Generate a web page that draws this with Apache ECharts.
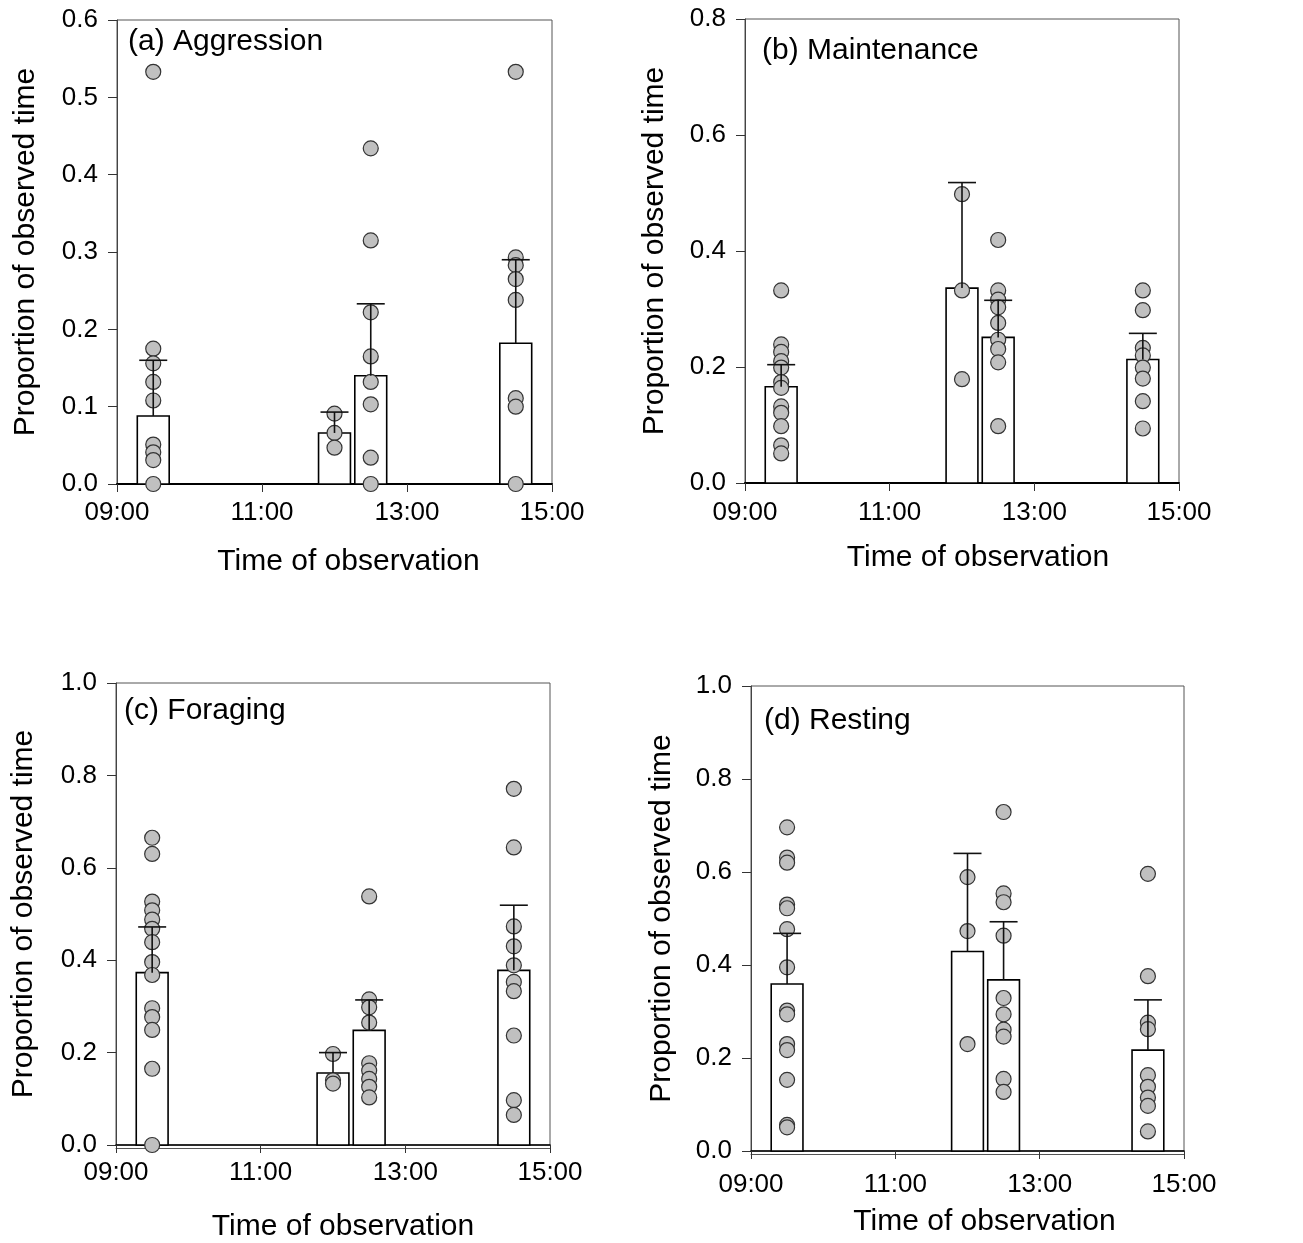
<!DOCTYPE html>
<html>
<head>
<meta charset="utf-8">
<script src="https://cdn.jsdelivr.net/npm/echarts@6/dist/echarts.min.js"></script>
<style>
  html, body { margin: 0; padding: 0; background: #fff; }
  #chart { width: 1303px; height: 1243px; }
</style>
</head>
<body>
<div id="chart"></div>
<script>
// observation slots
const times = ['09:30', '12:00', '12:30', '14:30'];
const xTicks = ['09:00', '11:00', '13:00', '15:00'];

// (a) Aggression
const aggressionMean = [0.088, 0.066, 0.140, 0.182];
const aggressionTop = [0.160, 0.093, 0.233, 0.290];
const aggressionPts = [
  [0.533, 0.175, 0.156, 0.132, 0.108, 0.051, 0.041, 0.031, 0],
  [0.091, 0.066, 0.047],
  [0.434, 0.315, 0.222, 0.165, 0.132, 0.103, 0.034, 0],
  [0.533, 0.293, 0.283, 0.265, 0.238, 0.111, 0.100, 0],
];

// (b) Maintenance
const maintenanceMean = [0.166, 0.336, 0.251, 0.213];
const maintenanceTop = [0.204, 0.518, 0.315, 0.258];
const maintenancePts = [
  [0.332, 0.239, 0.226, 0.210, 0.199, 0.174, 0.164, 0.132, 0.121, 0.098, 0.065, 0.051],
  [0.498, 0.332, 0.179],
  [0.419, 0.332, 0.316, 0.303, 0.276, 0.247, 0.231, 0.208, 0.098],
  [0.332, 0.298, 0.233, 0.220, 0.199, 0.180, 0.141, 0.094],
];

// (c) Foraging
const foragingMean = [0.373, 0.156, 0.248, 0.378];
const foragingTop = [0.472, 0.200, 0.314, 0.519];
const foragingPts = [
  [0.665, 0.630, 0.527, 0.508, 0.488, 0.468, 0.439, 0.396, 0.368, 0.296, 0.277, 0.249, 0.165, 0],
  [0.197, 0.140, 0.133],
  [0.538, 0.315, 0.298, 0.265, 0.177, 0.161, 0.143, 0.126, 0.103],
  [0.771, 0.644, 0.473, 0.430, 0.389, 0.353, 0.333, 0.237, 0.097, 0.065],
];

// (d) Resting
const restingMean = [0.359, 0.429, 0.368, 0.217];
const restingTop = [0.468, 0.640, 0.493, 0.325];
const restingPts = [
  [0.696, 0.631, 0.620, 0.530, 0.522, 0.477, 0.395, 0.302, 0.294, 0.230, 0.217, 0.153, 0.056, 0.051],
  [0.589, 0.473, 0.230],
  [0.729, 0.554, 0.535, 0.463, 0.329, 0.294, 0.261, 0.246, 0.155, 0.127],
  [0.596, 0.376, 0.276, 0.262, 0.163, 0.138, 0.115, 0.097, 0.042],
];

const FONT = '"Liberation Sans", Arial, sans-serif';

// hours after 09:00, so ticks start at 0
const toHours = t => {
  const [h, m] = t.split(':').map(Number);
  return h - 9 + m / 60;
};

const panels = [
  { title: '(a) Aggression', mean: aggressionMean, top: aggressionTop, pts: aggressionPts,
    max: 0.6, step: 0.1, grid: { left: 117, top: 20, width: 435, height: 464 },
    lblGap: 16, nameGap: 63, nameShift: 14, yNameGap: 76, titleXY: [128, 42], double: false },
  { title: '(b) Maintenance', mean: maintenanceMean, top: maintenanceTop, pts: maintenancePts,
    max: 0.8, step: 0.2, grid: { left: 745, top: 19, width: 434, height: 464 },
    lblGap: 17, nameGap: 60, nameShift: 16, yNameGap: 75, titleXY: [762, 51], double: false },
  { title: '(c) Foraging', mean: foragingMean, top: foragingTop, pts: foragingPts,
    max: 1.0, step: 0.2, grid: { left: 116, top: 683, width: 434, height: 465 },
    lblGap: 15, nameGap: 67, nameShift: 10, yNameGap: 77, titleXY: [124, 711], double: true },
  { title: '(d) Resting', mean: restingMean, top: restingTop, pts: restingPts,
    max: 1.0, step: 0.2, grid: { left: 751, top: 686, width: 433, height: 465 },
    lblGap: 21, nameGap: 56, nameShift: 17, yNameGap: 74, titleXY: [764, 721], double: true },
];

const BAR_W = 0.44; // hours
const CAP_PX = 28;

const grids = [], xAxes = [], yAxes = [], series = [], graphics = [];

panels.forEach((p, i) => {
  grids.push(Object.assign({ show: true, borderColor: '#555', borderWidth: 1, backgroundColor: '#fff' }, p.grid));

  xAxes.push({
    type: 'value', gridIndex: i, min: 0, max: 6, interval: 2,
    name: 'Time of observation', nameLocation: 'middle', nameGap: p.nameGap,
    nameTextStyle: { fontFamily: FONT, fontSize: 30, color: '#000', padding: [0, 0, 0, p.nameShift * 2] },
    axisLine: { show: true, lineStyle: { color: '#000', width: p.double ? 1.5 : 2 } },
    axisTick: { show: true, length: 8, lineStyle: { color: '#333', width: 1 } },
    axisLabel: {
      fontFamily: FONT, fontSize: 26, color: '#000', margin: p.lblGap,
      formatter: v => xTicks[Math.round(v / 2)],
    },
    splitLine: { show: false },
    z: 1,
  });
  yAxes.push({
    type: 'value', gridIndex: i, min: 0, max: p.max, interval: p.step,
    name: 'Proportion of observed time', nameLocation: 'middle', nameGap: p.yNameGap,
    nameTextStyle: { fontFamily: FONT, fontSize: 30, color: '#000' },
    axisLine: { show: true, lineStyle: { color: '#444', width: 1 } },
    axisTick: { show: true, length: 9, lineStyle: { color: '#333', width: 1 } },
    axisLabel: { fontFamily: FONT, fontSize: 26, color: '#000', margin: 19, formatter: v => v.toFixed(1) },
    splitLine: { show: false },
  });

  const xs = times.map(toHours);

  // bars
  series.push({
    type: 'custom', xAxisIndex: i, yAxisIndex: i, z: 2,
    data: xs.map((x, k) => [x, p.mean[k]]),
    renderItem: (params, api) => {
      const x = api.value(0), v = api.value(1);
      const base = api.coord([x, 0]);
      const top = api.coord([x, v]);
      const w = api.size([BAR_W, 0])[0];
      return {
        type: 'rect',
        shape: { x: base[0] - w / 2, y: top[1], width: w, height: base[1] - top[1] },
        style: { fill: '#fff', stroke: '#000', lineWidth: 1.6 },
      };
    },
  });

  // individual observations
  series.push({
    type: 'scatter', xAxisIndex: i, yAxisIndex: i, z: 3,
    symbol: 'circle', symbolSize: 15, clip: false,
    itemStyle: { color: '#c0c0c0', borderColor: '#333', borderWidth: 1.2, opacity: 1 },
    data: p.pts.flatMap((arr, k) => arr.map(v => [xs[k], v])),
  });

  // error bars (upper only)
  series.push({
    type: 'custom', xAxisIndex: i, yAxisIndex: i, z: 4,
    data: xs.map((x, k) => [x, p.mean[k], p.top[k]]),
    renderItem: (params, api) => {
      const x = api.value(0);
      const lo = api.coord([x, api.value(1)]);
      const hi = api.coord([x, api.value(2)]);
      const st = { stroke: '#111', lineWidth: 1.6 };
      return {
        type: 'group',
        children: [
          { type: 'line', shape: { x1: lo[0], y1: lo[1], x2: hi[0], y2: hi[1] }, style: st },
          { type: 'line', shape: { x1: hi[0] - CAP_PX / 2, y1: hi[1], x2: hi[0] + CAP_PX / 2, y2: hi[1] }, style: st },
        ],
      };
    },
  });

  graphics.push({
    type: 'text', x: p.titleXY[0], y: p.titleXY[1], z: 10,
    style: { text: p.title, fontFamily: FONT, fontSize: 30, fill: '#000', verticalAlign: 'middle', align: 'left' },
  });
});

// second bottom rule under the zero line in (c) and (d)
panels.forEach((p, i) => {
  if (!p.double) return;
  xAxes.push({
    type: 'value', gridIndex: i, min: 0, max: 6, offset: 3, position: 'bottom',
    axisLine: { show: true, lineStyle: { color: '#555', width: 1 } },
    axisTick: { show: false }, axisLabel: { show: false }, splitLine: { show: false },
  });
});

const chart = echarts.init(document.getElementById('chart'), null, { renderer: 'canvas' });
chart.setOption({
  animation: false,
  backgroundColor: '#fff',
  grid: grids,
  xAxis: xAxes,
  yAxis: yAxes,
  series: series,
  graphic: graphics,
});
</script>
</body>
</html>
